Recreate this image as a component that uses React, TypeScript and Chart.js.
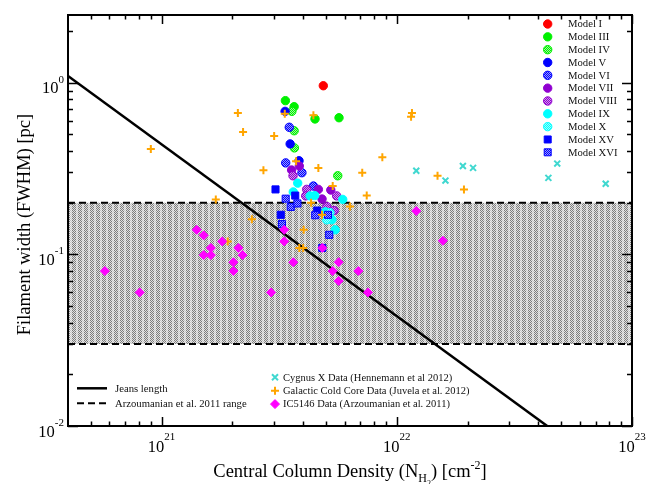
import React, { useEffect, useRef } from "react";
import { Chart, registerables } from "chart.js";

Chart.register(...registerables);

type P = [number, number];

// Axis ranges
const X_MIN = 4e20;
const X_MAX = 1e23;
const Y_MIN = 0.01;
const Y_MAX = 2.48;

const xMajorTicks = [1e21, 1e22, 1e23];
const xMajorExps = ["21", "22", "23"];
const yMajorTicks = [1, 0.1, 0.01];
const yMajorExps = ["0", "-1", "-2"];

// Simulation models
const modelI: P[] = [[4.87e21, 0.96]];
const modelIII: P[] = [[3.36e21, 0.786], [3.66e21, 0.725], [4.49e21, 0.615], [5.68e21, 0.625]];
const modelIV: P[] = [[3.58e21, 0.681], [3.66e21, 0.525], [3.67e21, 0.417], [5.61e21, 0.287]];
const modelV: P[] = [[3.35e21, 0.681], [3.52e21, 0.44], [3.84e21, 0.351]];
const modelVI: P[] = [[3.49e21, 0.55], [3.37e21, 0.341], [3.95e21, 0.299], [4.42e21, 0.25]];
const modelVII: P[] = [[3.57e21, 0.31], [3.85e21, 0.327], [4.64e21, 0.239], [5.24e21, 0.237], [4.81e21, 0.21]];
const modelVIII: P[] = [[3.62e21, 0.287], [4.14e21, 0.239], [4.1e21, 0.219], [5.55e21, 0.219], [5.41e21, 0.18], [5.04e21, 0.19]];
const modelIX: P[] = [[3.79e21, 0.26], [3.63e21, 0.231], [4.28e21, 0.219], [4.48e21, 0.22], [5.89e21, 0.209], [4.97e21, 0.177], [5.3e21, 0.159], [5.47e21, 0.139]];
const modelX: P[] = [[5.04e21, 0.159], [5.2e21, 0.175]];
const modelXV: P[] = [[3.05e21, 0.239], [3.7e21, 0.22], [4.59e21, 0.18], [3.21e21, 0.17], [4.82e21, 0.109]];
const modelXVI: P[] = [[3.37e21, 0.211], [3.54e21, 0.189], [3.78e21, 0.198], [4.5e21, 0.169], [5.1e21, 0.17], [3.25e21, 0.15], [5.16e21, 0.13]];

// Observations
const cygnusX: P[] = [[1.21e22, 0.307], [1.61e22, 0.269], [1.91e22, 0.327], [2.11e22, 0.319], [4.41e22, 0.279], [4.81e22, 0.338], [7.73e22, 0.258]];
const coldCores: P[] = [
  [9.0e20, 0.411], [2.11e21, 0.666], [2.22e21, 0.516], [3.01e21, 0.489], [3.34e21, 0.66], [4.42e21, 0.646],
  [2.71e21, 0.309], [3.73e21, 0.349], [4.64e21, 0.319], [7.13e21, 0.299], [7.45e21, 0.22], [5.34e21, 0.25],
  [4.32e21, 0.2], [6.32e21, 0.19], [4.81e21, 0.17], [4.02e21, 0.139], [3.85e21, 0.109], [4.0e21, 0.109],
  [1.7e21, 0.209], [2.42e21, 0.16], [1.91e21, 0.119], [1.15e22, 0.634], [1.16e22, 0.666], [8.68e21, 0.368],
  [1.49e22, 0.287], [1.93e22, 0.239],
];
const ic5146: P[] = [
  [5.74e20, 0.08], [8.07e20, 0.06], [1.41e21, 0.139], [1.51e21, 0.129], [1.62e21, 0.109], [1.51e21, 0.099],
  [1.62e21, 0.099], [1.81e21, 0.119], [2.02e21, 0.09], [2.02e21, 0.08], [2.12e21, 0.109], [2.21e21, 0.099],
  [2.92e21, 0.06], [3.32e21, 0.139], [3.32e21, 0.119], [3.63e21, 0.09], [4.82e21, 0.109], [5.34e21, 0.08],
  [5.66e21, 0.09], [5.66e21, 0.07], [6.86e21, 0.08], [7.54e21, 0.06], [1.21e22, 0.179], [1.57e22, 0.12],
];

// Lines
const jeansLength: P[] = [[4e20, 1.094], [4.36e22, 0.01]];
const arzUpper: P[] = [[X_MIN, 0.2], [X_MAX, 0.2]];
const arzLower: P[] = [[X_MIN, 0.03], [X_MAX, 0.03]];

const FONT = '"Liberation Serif", "Times New Roman", serif';

function toXY(d: P[]) {
  return d.map(([x, y]) => ({ x, y }));
}

export default function App() {
  const ref = useRef<HTMLCanvasElement | null>(null);

  useEffect(() => {
    const canvas = ref.current!;
    const ctx = canvas.getContext("2d")!;

    const makeHatch = (color: string) => {
      const c = document.createElement("canvas");
      c.width = 2;
      c.height = 2;
      const g = c.getContext("2d")!;
      g.fillStyle = "#ffffff";
      g.fillRect(0, 0, 2, 2);
      g.globalAlpha = 0.4;
      g.fillStyle = color;
      g.fillRect(0, 0, 2, 2);
      g.globalAlpha = 1;
      g.fillRect(0, 0, 1, 1);
      g.fillRect(1, 1, 1, 1);
      return ctx.createPattern(c, "repeat")!;
    };

    const makeShade = () => {
      const c = document.createElement("canvas");
      c.width = 6;
      c.height = 2;
      const g = c.getContext("2d")!;
      for (let x = 0; x < 6; x++) {
        for (let y = 0; y < 2; y++) {
          const stripe = x >= 4;
          const dark = (x + y) % 2 === 0;
          g.fillStyle = stripe ? (dark ? "#c4c4c4" : "#ececec") : dark ? "#7c7c7c" : "#e0e0e0";
          g.fillRect(x, y, 1, 1);
        }
      }
      return ctx.createPattern(c, "repeat")!;
    };

    const shade = makeShade();
    const C = {
      red: "#ff0000",
      green: "#00f000",
      blue: "#0000ff",
      purple: "#9000d0",
      cyan: "#00ffff",
      turq: "#40d8d0",
      orange: "#ffa500",
      magenta: "#ff00ff",
    };
    const hatchGreen = makeHatch(C.green);
    const hatchBlue = makeHatch(C.blue);
    const hatchPurple = makeHatch(C.purple);
    const hatchCyan = makeHatch(C.cyan);

    type Mk = { label: string; data: P[]; kind: string; fill: any; stroke: string };
    const models: Mk[] = [
      { label: "Model I", data: modelI, kind: "circle", fill: C.red, stroke: C.red },
      { label: "Model III", data: modelIII, kind: "circle", fill: C.green, stroke: C.green },
      { label: "Model IV", data: modelIV, kind: "circle", fill: hatchGreen, stroke: C.green },
      { label: "Model V", data: modelV, kind: "circle", fill: C.blue, stroke: C.blue },
      { label: "Model VI", data: modelVI, kind: "circle", fill: hatchBlue, stroke: C.blue },
      { label: "Model VII", data: modelVII, kind: "circle", fill: C.purple, stroke: C.purple },
      { label: "Model VIII", data: modelVIII, kind: "circle", fill: hatchPurple, stroke: C.purple },
      { label: "Model IX", data: modelIX, kind: "circle", fill: C.cyan, stroke: C.cyan },
      { label: "Model X", data: modelX, kind: "circle", fill: hatchCyan, stroke: C.cyan },
      { label: "Model XV", data: modelXV, kind: "rect", fill: C.blue, stroke: C.blue },
      { label: "Model XVI", data: modelXVI, kind: "rect", fill: hatchBlue, stroke: C.blue },
    ];

    const obs: Mk[] = [
      { label: "Cygnus X Data (Hennemann et al 2012)", data: cygnusX, kind: "crossRot", fill: C.turq, stroke: C.turq },
      { label: "Galactic Cold Core Data (Juvela et al. 2012)", data: coldCores, kind: "cross", fill: C.orange, stroke: C.orange },
      { label: "IC5146 Data (Arzoumanian et al. 2011)", data: ic5146, kind: "rectRot", fill: C.magenta, stroke: C.magenta },
    ];

    const modelDatasets = models.map((m, i) => ({
      type: "scatter" as const,
      label: m.label,
      data: toXY(m.data),
      pointStyle: m.kind,
      pointRadius: m.kind === "rect" ? 5 : 4.2,
      pointBackgroundColor: m.fill,
      pointBorderColor: m.stroke,
      pointBorderWidth: 1,
      showLine: false,
      order: 20 - i,
    }));

    const drawMarker = (c: CanvasRenderingContext2D, kind: string, x: number, y: number, fill: any, stroke: string) => {
      c.save();
      c.fillStyle = fill;
      c.strokeStyle = stroke;
      c.lineWidth = 1;
      c.beginPath();
      if (kind === "circle") {
        c.arc(x, y, 4.2, 0, Math.PI * 2);
        c.fill();
        c.stroke();
      } else if (kind === "rect") {
        c.rect(x - 3.5, y - 3.5, 7, 7);
        c.fill();
        c.stroke();
      } else if (kind === "rectRot") {
        c.moveTo(x - 4.5, y);
        c.lineTo(x, y - 4.5);
        c.lineTo(x + 4.5, y);
        c.lineTo(x, y + 4.5);
        c.closePath();
        c.fill();
        c.stroke();
      } else if (kind === "cross") {
        c.lineWidth = 2;
        c.moveTo(x - 4, y);
        c.lineTo(x + 4, y);
        c.moveTo(x, y - 4);
        c.lineTo(x, y + 4);
        c.stroke();
      } else if (kind === "crossRot") {
        c.lineWidth = 2;
        c.moveTo(x - 3, y - 3);
        c.lineTo(x + 3, y + 3);
        c.moveTo(x + 3, y - 3);
        c.lineTo(x - 3, y + 3);
        c.stroke();
      }
      c.restore();
    };

    const decor = {
      id: "decor",
      afterDraw(chart: any) {
        const c: CanvasRenderingContext2D = chart.ctx;
        const a = chart.chartArea;
        const xs = chart.scales.x;
        const ys = chart.scales.y;
        c.save();
        // frame
        c.strokeStyle = "#000";
        c.lineWidth = 2;
        c.strokeRect(a.left, a.top, a.right - a.left, a.bottom - a.top);
        c.lineWidth = 1.5;
        c.beginPath();
        for (let e = 20; e <= 23; e++) {
          for (let k = 1; k <= 9; k++) {
            const v = k * Math.pow(10, e);
            if (v <= X_MIN * 1.001 || v > X_MAX * 1.0001) continue;
            const px = Math.round(xs.getPixelForValue(v)) + 0.5;
            const len = k === 1 ? 9 : 4.5;
            c.moveTo(px, a.bottom);
            c.lineTo(px, a.bottom - len);
            c.moveTo(px, a.top);
            c.lineTo(px, a.top + len);
          }
        }
        for (let e = -2; e <= 0; e++) {
          for (let k = 1; k <= 9; k++) {
            const v = k * Math.pow(10, e);
            if (v < Y_MIN * 0.999 || v > Y_MAX) continue;
            const py = Math.round(ys.getPixelForValue(v)) + 0.5;
            const len = k === 1 ? 10 : 5;
            c.moveTo(a.left, py);
            c.lineTo(a.left + len, py);
            c.moveTo(a.right, py);
            c.lineTo(a.right - len, py);
          }
        }
        c.stroke();

        // tick labels
        c.fillStyle = "#000";
        c.textBaseline = "alphabetic";
        c.textAlign = "left";
        const baseFont = `16.5px ${FONT}`;
        const expFont = `11px ${FONT}`;
        xMajorTicks.forEach((v, i) => {
          const px = xs.getPixelForValue(v);
          c.font = baseFont;
          const bw = c.measureText("10").width;
          c.font = expFont;
          const ew = c.measureText(xMajorExps[i]).width;
          const x0 = px - (bw + ew) / 2;
          c.font = baseFont;
          c.fillText("10", x0, a.bottom + 25.5);
          c.font = expFont;
          c.fillText(xMajorExps[i], x0 + bw, a.bottom + 14);
        });
        yMajorTicks.forEach((v, i) => {
          const py = ys.getPixelForValue(v);
          c.font = expFont;
          const ew = c.measureText(yMajorExps[i]).width;
          c.font = baseFont;
          const bw = c.measureText("10").width;
          const right = a.left - 4;
          c.fillText("10", right - ew - bw, py + 10.5);
          c.font = expFont;
          c.fillText(yMajorExps[i], right - ew, py);
        });

        // x title
        const big = `18.5px ${FONT}`;
        const sub = `12px ${FONT}`;
        const sub2 = `8px ${FONT}`;
        const parts: [string, string, number][] = [
          ["Central Column Density (N", big, 0],
          ["H", sub, 5],
          ["2", sub2, 9],
          [") [cm", big, 0],
          ["-2", sub, -8],
          ["]", big, 0],
        ];
        let total = 0;
        parts.forEach(([t, f]) => {
          c.font = f;
          total += c.measureText(t).width;
        });
        let cx = 350 - total / 2;
        const by = 476.5;
        parts.forEach(([t, f, dy]) => {
          c.font = f;
          c.fillText(t, cx, by + dy);
          cx += c.measureText(t).width;
        });

        // y title
        c.save();
        c.translate(30, 224.5);
        c.rotate(-Math.PI / 2);
        c.font = big;
        c.textAlign = "center";
        c.fillText("Filament width (FWHM) [pc]", 0, 0);
        c.restore();

        // model legend
        c.font = `10.7px ${FONT}`;
        c.textBaseline = "middle";
        c.textAlign = "left";
        models.forEach((m, i) => {
          const y = 24 + i * 12.83;
          drawMarker(c, m.kind, 547.7, y, m.fill, m.stroke);
          c.fillStyle = "#111";
          c.fillText(m.label, 568, y + 0.5);
        });

        // observation legend
        c.font = `10.5px ${FONT}`;
        obs.forEach((m, i) => {
          const y = 377.3 + i * 13.4;
          drawMarker(c, m.kind, 275, y, m.fill, m.stroke);
          c.fillStyle = "#111";
          c.fillText(m.label, 283, y + 0.5);
        });

        // line legend
        c.strokeStyle = "#000";
        c.lineWidth = 2.5;
        c.beginPath();
        c.moveTo(77, 388.3);
        c.lineTo(107, 388.3);
        c.stroke();
        c.lineWidth = 2;
        c.setLineDash([7, 4]);
        c.beginPath();
        c.moveTo(77, 403.3);
        c.lineTo(107, 403.3);
        c.stroke();
        c.setLineDash([]);
        c.fillStyle = "#111";
        c.font = `10.7px ${FONT}`;
        c.fillText("Jeans length", 115, 388.8);
        c.fillText("Arzoumanian et al. 2011 range", 115, 403.8);

        c.restore();
      },
    };

    const chart = new Chart(ctx, {
      type: "scatter",
      data: {
        datasets: [
          {
            type: "scatter",
            label: "IC5146 Data (Arzoumanian et al. 2011)",
            data: toXY(ic5146),
            pointStyle: "rectRot",
            pointRadius: 4.5,
            pointBackgroundColor: C.magenta,
            pointBorderColor: C.magenta,
            pointBorderWidth: 1,
            order: 0,
          },
          {
            type: "scatter",
            label: "Galactic Cold Core Data (Juvela et al. 2012)",
            data: toXY(coldCores),
            pointStyle: "cross",
            pointRadius: 4,
            pointBorderColor: C.orange,
            pointBorderWidth: 2,
            order: 1,
          },
          {
            type: "scatter",
            label: "Cygnus X Data (Hennemann et al 2012)",
            data: toXY(cygnusX),
            pointStyle: "crossRot",
            pointRadius: 4.2,
            pointBorderColor: C.turq,
            pointBorderWidth: 2,
            order: 2,
          },
          ...modelDatasets,
          {
            type: "line",
            label: "Jeans length",
            data: toXY(jeansLength),
            borderColor: "#000",
            borderWidth: 2.5,
            pointRadius: 0,
            fill: false,
            order: 40,
          },
          {
            type: "line",
            label: "Arzoumanian upper",
            data: toXY(arzUpper),
            borderColor: "#000",
            borderWidth: 2,
            borderDash: [7, 4],
            pointRadius: 0,
            fill: false,
            order: 50,
          },
          {
            type: "line",
            label: "Arzoumanian lower",
            data: toXY(arzLower),
            borderColor: "#000",
            borderWidth: 2,
            borderDash: [7, 4],
            pointRadius: 0,
            backgroundColor: shade,
            fill: "-1",
            order: 51,
          },
        ] as any,
      },
      options: {
        responsive: false,
        animation: false,
        devicePixelRatio: 1,
        layout: { padding: { top: 15, right: 29, left: 0, bottom: 0 } },
        plugins: { legend: { display: false }, tooltip: { enabled: false } },
        scales: {
          x: {
            type: "logarithmic",
            min: X_MIN,
            max: X_MAX,
            grid: { display: false },
            border: { display: false },
            ticks: { display: false },
            afterFit: (s: any) => {
              s.height = 58;
            },
          },
          y: {
            type: "logarithmic",
            min: Y_MIN,
            max: Y_MAX,
            grid: { display: false },
            border: { display: false },
            ticks: { display: false },
            afterFit: (s: any) => {
              s.width = 68;
            },
          },
        },
      } as any,
      plugins: [decor],
    });

    return () => chart.destroy();
  }, []);

  return (
    <div style={{ position: "absolute", left: 0, top: 0, width: 661, height: 484, background: "#fff" }}>
      <canvas ref={ref} width={661} height={484} style={{ display: "block" }} />
    </div>
  );
}
